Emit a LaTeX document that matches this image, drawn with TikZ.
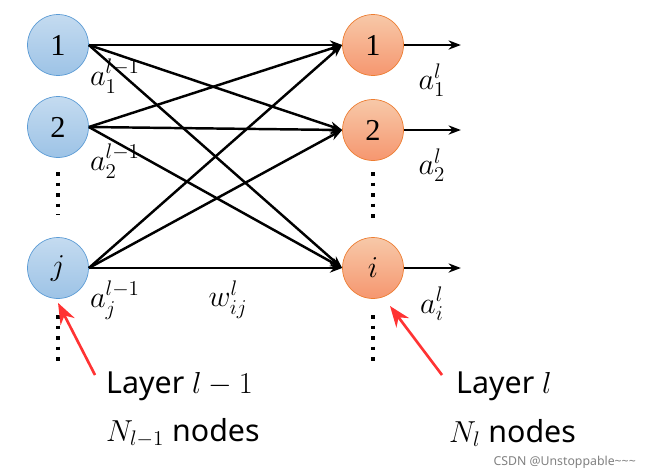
\documentclass[tikz,border=0pt]{standalone}
\usepackage{fontspec}
\setmainfont{Noto Sans}
\newfontfamily\serifnum{Liberation Serif}
\usepackage{amsmath}
\usetikzlibrary{arrows.meta}
\tikzset{>=latex}
\definecolor{inblue}{HTML}{9DC3E6}
\definecolor{inedge}{HTML}{5B9BD5}
\definecolor{outorg}{HTML}{F4B183}
\definecolor{outedge}{HTML}{ED7D31}
\tikzset{
  inneuron/.style={circle, minimum size=1.22cm, inner sep=0pt, draw=inedge, top color=inblue!60, bottom color=inblue, font=\LARGE\serifnum},
  outneuron/.style={circle, minimum size=1.22cm, inner sep=0pt, draw=outedge, top color=outorg!70, bottom color=outorg!85!red, font=\LARGE\serifnum},
  wire/.style={->, line width=1.4pt, >={Stealth[length=7pt]}},
  dotcol/.style={line width=2.2pt, dash pattern=on 2pt off 4pt},
  pointer/.style={->, line width=1.5pt, red!80, >={Stealth[length=12pt,width=9pt]}}
}
\begin{document}
\begin{tikzpicture}[x=0.02cm, y=-0.02cm]
\useasboundingbox (0,0) rectangle (645,474);

% Layer l-1
\node[inneuron] (in1) at (58,45) {1};
\node[inneuron] (in2) at (58,127) {2};
\node[inneuron] (inj) at (58,268) {$j$};

% Layer l
\node[outneuron] (out1) at (373,45) {1};
\node[outneuron] (out2) at (373,130) {2};
\node[outneuron] (outi) at (373,268) {$i$};

% Weights
\foreach \s in {in1, in2, inj}{
  \foreach \t in {out1, out2, outi}{
    \draw[wire] (\s.east) -- (\t.west);
  }
}

% Outputs
\foreach \t in {out1, out2, outi}{
  \coordinate (\t-end) at ([xshift=57*0.02cm]\t.east);
  \draw[wire] (\t.east) -- (\t-end);
}

% Labels
\node[font=\LARGE] (a1) at (115,76) {$a_1^{l-1}$};
\node[font=\LARGE] (a2) at (115,161) {$a_2^{l-1}$};
\node[font=\LARGE] (aj) at (115,300) {$a_j^{l-1}$};
\node[font=\LARGE] (w) at (228,300) {$w_{ij}^{l}$};
\node[font=\LARGE] (b1) at (432,80) {$a_1^{l}$};
\node[font=\LARGE] (b2) at (432,165) {$a_2^{l}$};
\node[font=\LARGE] (bi) at (432,304) {$a_i^{l}$};

% Dots
\draw[dotcol] (58,172) -- (58,215);
\draw[dotcol] (58,315) -- (58,362);
\draw[dotcol] (373,172) -- (373,222);
\draw[dotcol] (373,315) -- (373,362);

% Captions
\node[font=\LARGE, anchor=west] (lay1) at (100,386) {Layer $l-1$};
\node[font=\LARGE, anchor=west] (n1) at (100,433) {$N_{l-1}$ nodes};
\node[font=\LARGE, anchor=west] (lay2) at (450,386) {Layer $l$};
\node[font=\LARGE, anchor=west] (n2) at (443,433) {$N_l$ nodes};
\node[font=\scriptsize, text=gray, anchor=east] (wm) at (642,462) {CSDN @Unstoppable\textasciitilde\textasciitilde\textasciitilde};

\coordinate (p1) at (95,375);
\coordinate (p2) at (442,375);
\draw[pointer] (p1) -- ([yshift=-4*0.02cm]inj.south);
\draw[pointer] (p2) -- (390,306);
\end{tikzpicture}
\end{document}
